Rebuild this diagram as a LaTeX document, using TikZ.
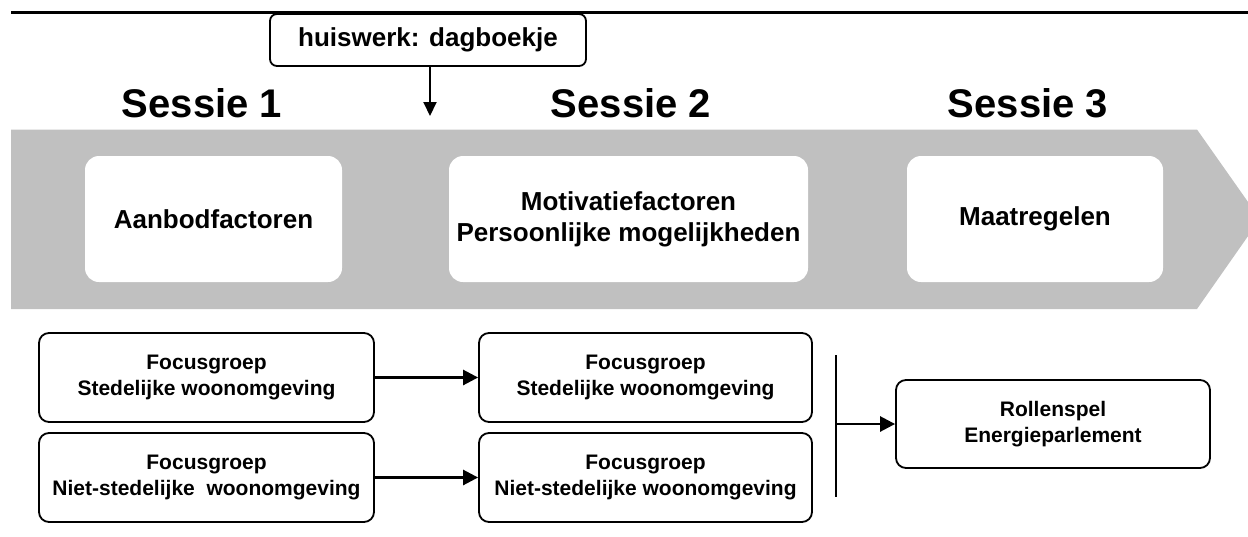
\documentclass[tikz,border=0pt]{standalone}
\usepackage{fontspec}
\setmainfont{Liberation Sans}
\usetikzlibrary{arrows.meta}
\definecolor{band}{HTML}{C0C0C0}
\begin{document}
\begin{tikzpicture}[x=1pt,y=-1pt,
  font=\bfseries,
  sessie/.style={font=\fontsize{40}{48}\selectfont\bfseries, inner sep=0pt, anchor=base},
  phase/.style={fill=white, rounded corners=14pt, align=center, inner sep=0pt,
    font=\fontsize{26}{31}\selectfont\bfseries},
  group/.style={draw=black, line width=1.8pt, fill=white, rounded corners=10pt,
    align=center, inner sep=0pt, font=\fontsize{21}{26}\selectfont\bfseries},
  flow/.style={line width=2.6pt, -{Triangle[length=15pt,width=15pt]}},
]
\useasboundingbox (0,0) rectangle (1248,536);

% rule across the top
\draw[line width=2.5pt] (11,12.7) -- (1248,12.7);

% grey process arrow
\fill[band] (11,129.5) -- (1197,129.5) -- (1260,219) -- (1197,309) -- (11,309) -- cycle;

% homework box and its arrow
\node[draw=black, line width=1.8pt, fill=white, rounded corners=7pt, inner sep=0pt,
      minimum width=316pt, minimum height=52pt,
      font=\fontsize{26}{31}\selectfont\bfseries] (hw) at (428,40) {huiswerk: dagboekje};
\coordinate (hwend) at (430,116);
\draw[line width=2pt, -{Triangle[length=14pt,width=13pt]}] (hw.south -| hwend) -- (hwend);

% session titles
\node[sessie] (s1) at (202,117) {Sessie 1};
\node[sessie] (s2) at (631,117) {Sessie 2};
\node[sessie] (s3) at (1028,117) {Sessie 3};

% session contents
\node[phase, minimum width=257pt, minimum height=126pt] (p1) at (213.5,219) {Aanbodfactoren};
\node[phase, minimum width=359pt, minimum height=126pt] (p2) at (628.5,219)
  {Motivatiefactoren\\Persoonlijke mogelijkheden};
\node[phase, minimum width=256pt, minimum height=126pt] (p3) at (1035,219) {Maatregelen};

% focus groups
\node[group, minimum width=335pt, minimum height=89pt] (f1a) at (206.5,377.5)
  {Focusgroep\\Stedelijke woonomgeving};
\node[group, minimum width=335pt, minimum height=89pt] (f1b) at (206.5,477.5)
  {Focusgroep\\Niet-stedelijke\ \ woonomgeving};
\node[group, minimum width=333pt, minimum height=89pt] (f2a) at (645.5,377.5)
  {Focusgroep\\Stedelijke woonomgeving};
\node[group, minimum width=333pt, minimum height=89pt] (f2b) at (645.5,477.5)
  {Focusgroep\\Niet-stedelijke woonomgeving};
\node[group, minimum width=314pt, minimum height=88pt] (rp) at (1053,424)
  {Rollenspel\\Energieparlement};

\draw[flow] (f1a) -- (f2a);
\draw[flow] (f1b) -- (f2b);

% bracket joining session 2 to session 3
\coordinate (bt) at (835.5,355);
\coordinate (bb) at (835.5,497);
\coordinate (bm) at (835.5,424);
\draw[line width=2pt] (bt) -- (bb);
\draw[flow] (bm) -- (rp.west);
\end{tikzpicture}
\end{document}
